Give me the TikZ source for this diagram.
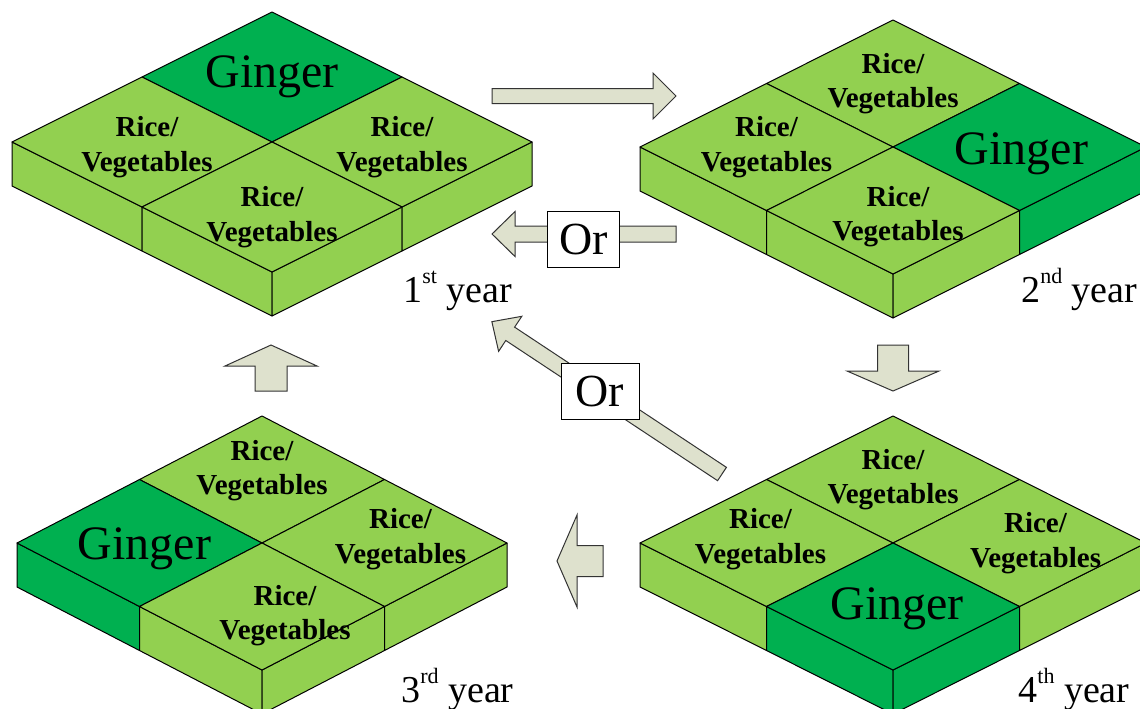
\documentclass[tikz,border=0pt]{standalone}
\usepackage{fontspec}
\setmainfont{Liberation Serif}
\definecolor{ricegreen}{RGB}{146,208,80}
\definecolor{gingergreen}{RGB}{0,176,80}
\definecolor{arrowgray}{RGB}{222,225,205}
\newcommand{\gingertext}{Ginger}
\newcommand{\ricetext}{Rice/\\Vegetables}
\newcommand{\yearsup}[1]{\raisebox{9.5pt}{\fontsize{11}{11}\selectfont #1}}
\tikzset{
  gingercell/.style={fill=gingergreen},
  ricecell/.style={fill=ricegreen},
  gingerlabel/.style={font=\fontsize{24}{24}\selectfont},
  ricelabel/.style={font=\fontsize{14.5}{17.3}\selectfont\bfseries},
  face/.style={draw=black, line width=0.5pt, line join=round},
  cellname/.style={inner sep=0pt, align=center},
  arrowbox/.style={draw=black!80, fill=arrowgray, line width=0.5pt},
  orbox/.style={draw=black, fill=white, line width=0.5pt, inner sep=0pt,
    minimum height=28pt, font=\fontsize{23}{23}\selectfont},
  yearlabel/.style={anchor=base west, inner sep=0pt, font=\fontsize{19}{19}\selectfont},
  % hand nudges of some crop labels
  yr1-l/.style={shift={(5,5)}},
  yr1-r/.style={shift={(0,5)}},
  yr1-b/.style={shift={(0,10)}},
  yr2-r/.style={shift={(2,7)}},
  yr2-b/.style={shift={(5,6)}},
  yr3-t/.style={shift={(0,-9)}},
  yr3-l/.style={shift={(5,6)}},
  yr3-r/.style={shift={(16,-4)}},
  yr3-b/.style={shift={(23,9)}},
  yr4-l/.style={shift={(-6,-4)}},
  yr4-r/.style={shift={(16,0)}},
  yr4-b/.style={shift={(4,2)}}
}
% field block: name, centre x, centre y, half width, half height, top, left, right, bottom crop
\newcommand{\FieldBlock}[9]{%
  \begin{scope}[shift={(#2,#3)}]
    \draw[face, #7cell] (-#4,0) -- ({-#4/2},{#5/2}) -- ({-#4/2},{#5/2+44}) -- (-#4,44) -- cycle;
    \draw[face, #9cell] ({-#4/2},{#5/2}) -- (0,#5) -- (0,{#5+44}) -- ({-#4/2},{#5/2+44}) -- cycle;
    \draw[face, #9cell] (0,#5) -- ({#4/2},{#5/2}) -- ({#4/2},{#5/2+44}) -- (0,{#5+44}) -- cycle;
    \draw[face, #8cell] ({#4/2},{#5/2}) -- (#4,0) -- (#4,44) -- ({#4/2},{#5/2+44}) -- cycle;
    \draw[face, #6cell] (0,-#5) -- ({#4/2},{-#5/2}) -- (0,0) -- ({-#4/2},{-#5/2}) -- cycle;
    \draw[face, #7cell] (-#4,0) -- ({-#4/2},{-#5/2}) -- (0,0) -- ({-#4/2},{#5/2}) -- cycle;
    \draw[face, #8cell] (#4,0) -- ({#4/2},{-#5/2}) -- (0,0) -- ({#4/2},{#5/2}) -- cycle;
    \draw[face, #9cell] (0,#5) -- ({-#4/2},{#5/2}) -- (0,0) -- ({#4/2},{#5/2}) -- cycle;
    \node[cellname, #6label, #1-t/.try] (#1-t) at (0,{-#5/2}) {\csname #6text\endcsname};
    \node[cellname, #7label, #1-l/.try] (#1-l) at ({-#4/2},0) {\csname #7text\endcsname};
    \node[cellname, #8label, #1-r/.try] (#1-r) at ({#4/2},0) {\csname #8text\endcsname};
    \node[cellname, #9label, #1-b/.try] (#1-b) at (0,{#5/2}) {\csname #9text\endcsname};
  \end{scope}}
% block arrow: tail, angle, length, shaft half, head half, head length
\newcommand{\FatArrow}[6]{%
  \draw[arrowbox, shift={(#1)}, rotate=#2] (0,-#4) -- ({#3-#6},-#4) -- ({#3-#6},-#5)
    -- (#3,0) -- ({#3-#6},#5) -- ({#3-#6},#4) -- (0,#4) -- cycle;}

\begin{document}
\begin{tikzpicture}[x=0.5pt, y=-0.5pt]
  \useasboundingbox (0,0) rectangle (1140,708);
  \clip (0,0) rectangle (1140,708);
  % the four years
  \FieldBlock{yr1}{272}{142}{260}{130}{ginger}{rice}{rice}{rice}
  \FieldBlock{yr2}{893}{147}{253}{127}{rice}{rice}{ginger}{rice}
  \FieldBlock{yr3}{262}{543}{245}{127}{rice}{ginger}{rice}{rice}
  \FieldBlock{yr4}{893}{543}{253}{127}{rice}{rice}{rice}{ginger}
  % arrow tails
  \coordinate (t12) at (492,96);
  \coordinate (t21) at (676,234);
  \coordinate (t41) at (722,474);
  \coordinate (t24) at (893,345);
  \coordinate (t31) at (271,391);
  \coordinate (t43) at (603,561);
  \FatArrow{t12}{0}{184}{7.5}{23}{23}
  \FatArrow{t21}{180}{184}{8}{22.5}{23}
  \FatArrow{t41}{146.5}{276}{8}{21}{22}
  \FatArrow{t24}{270}{46}{15.5}{46}{20}
  \FatArrow{t31}{90}{46}{16}{46}{21}
  \FatArrow{t43}{180}{46}{15.5}{46}{20}
  \node[orbox, minimum width=36pt] (or1) at (583.5,239.5) {Or};
  \node[orbox, minimum width=39pt] (or2) at (600,391) {Or};
  % year labels
  \node[yearlabel] (y1) at (403,302) {1\yearsup{st} year};
  \node[yearlabel] (y2) at (1021,302) {2\yearsup{nd} year};
  \node[yearlabel] (y3) at (401,702) {3\yearsup{rd} year};
  \node[yearlabel] (y4) at (1018,702) {4\yearsup{th} year};
\end{tikzpicture}
\end{document}
